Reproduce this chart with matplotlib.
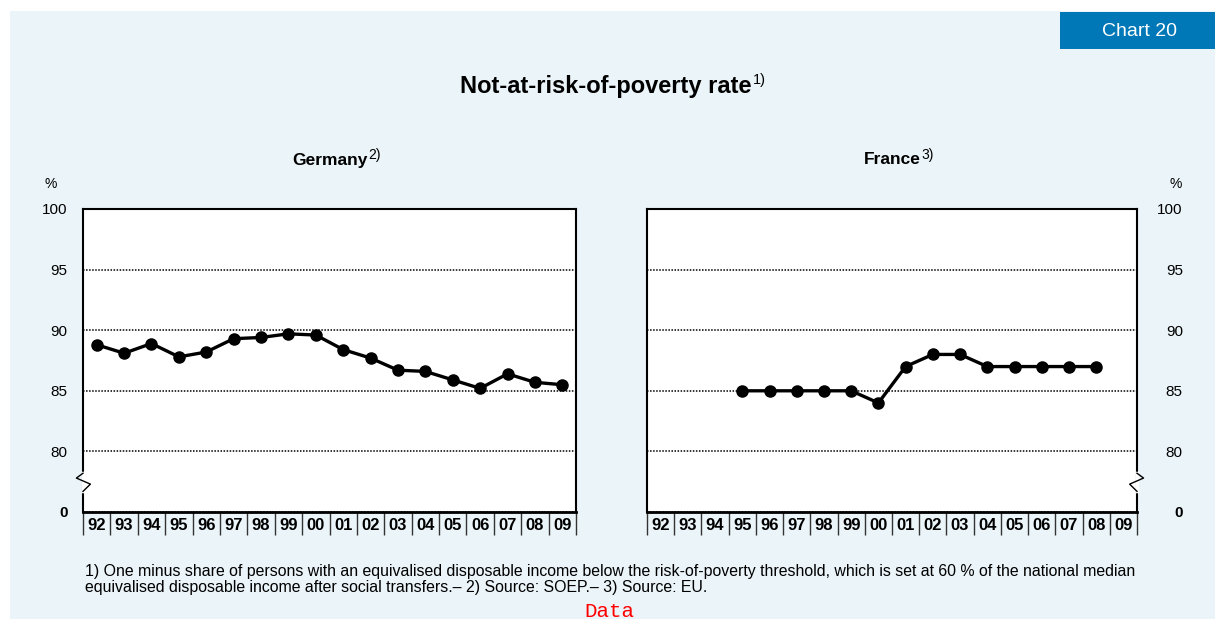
import numpy as np
import matplotlib
matplotlib.use('Agg')
import matplotlib.pyplot as plt
import matplotlib.patches as patches
import matplotlib.transforms as mtransforms

plt.rcParams['font.family'] = ['Liberation Sans', 'DejaVu Sans']

years = ['92', '93', '94', '95', '96', '97', '98', '99', '00',
         '01', '02', '03', '04', '05', '06', '07', '08', '09']
germany = [88.8, 88.1, 88.9, 87.8, 88.2, 89.3, 89.4, 89.7, 89.6,
           88.4, 87.7, 86.7, 86.6, 85.9, 85.2, 86.4, 85.7, 85.5]
france = [np.nan, np.nan, np.nan, 85, 85, 85, 85, 85, 84,
          87, 88, 88, 87, 87, 87, 87, 87, np.nan]
ytick_vals = [75, 80, 85, 90, 95, 100]
ytick_labels = ['0', '80', '85', '90', '95', '100']

BG = '#EBF4F8'
W, H = 1215, 619

fig = plt.figure(figsize=(W / 100, H / 100), dpi=100)
fig.patch.set_facecolor('white')
fig.add_artist(patches.Rectangle((10 / W, 0), 1, 1 - 11 / H, transform=fig.transFigure,
                                 facecolor=BG, edgecolor='none', zorder=-10))
fig.add_artist(patches.Rectangle((1060 / W, 1 - 48.5 / H), 1, 36.5 / H, transform=fig.transFigure,
                                 facecolor='#0077B6', edgecolor='none', zorder=-5))
fig.text(1139 / W, 1 - 31 / H, 'Chart 20', color='white', fontsize=14, ha='center', va='center')

title = fig.text(606 / W, 1 - 86 / H, 'Not-at-risk-of-poverty rate', fontsize=17,
                 fontweight='bold', ha='center', va='center')


def panel(rect, values, name, note, side):
    ax = fig.add_axes(rect)
    ax.set_facecolor('white')
    x = np.arange(len(years))
    ax.plot(x, values, color='black', lw=2.4, marker='o', ms=8, zorder=4, clip_on=False)
    ax.set_xlim(-0.5, len(years) - 0.5)
    ax.set_ylim(75, 100)
    ax.set_yticks(ytick_vals)
    ax.set_yticklabels(ytick_labels)
    ax.grid(axis='y', color='black', ls=(0, (1, 1)), lw=1.1)
    ax.set_axisbelow(True)
    for s in ax.spines.values():
        s.set_linewidth(1.5)
        s.set_color('black')
    ax.spines['bottom'].set_linewidth(2)
    ax.set_xticks(x)
    ax.set_xticklabels(years, fontsize=12, fontweight='bold')
    ax.set_xticks(np.arange(len(years) + 1) - 0.5, minor=True)
    ax.tick_params(axis='x', which='major', length=0, pad=4)
    ax.tick_params(axis='x', which='minor', length=16.5, width=1, color='#333333', direction='out')
    ax.tick_params(axis='y', length=0, labelsize=11)
    if side == 'right':
        ax.yaxis.tick_right()
        ax.tick_params(axis='y', pad=33)
        for lab in ax.get_yticklabels():
            lab.set_ha('right')
        xs = 1.0
        sign = 1
    else:
        ax.tick_params(axis='y', pad=11)
        xs = 0.0
        sign = -1
    ax.get_yticklabels()[0].set_fontweight('bold')

    # axis break on the value scale
    tr = mtransforms.blended_transform_factory(ax.transAxes, ax.transData)
    ax.plot([xs, xs], [78.2, 76.7], color='white', lw=2.5, transform=tr, clip_on=False, zorder=5)
    ax.plot([xs, xs + sign * 0.0134, xs - sign * 0.015, xs],
            [78.2, 77.8, 77.3, 76.7], color='black', lw=1, transform=tr,
            clip_on=False, zorder=6)

    t = ax.text(0.5, 1 + 49 / 303, name, transform=ax.transAxes, fontsize=12.5,
                fontweight='bold', ha='center', va='center')
    ax.annotate(note, xy=(1, 1), xycoords=t, xytext=(1, 3), textcoords='offset points',
                fontsize=10, ha='left', va='top')
    return ax


ax_g = panel([83 / W, 1 - 512 / H, 493 / W, 303 / H], germany, 'Germany', '2)', 'left')
ax_f = panel([647 / W, 1 - 512 / H, 490 / W, 303 / H], france, 'France', '3)', 'right')

ax_g.annotate('1)', xy=(1, 1), xycoords=title, xytext=(1, 1), textcoords='offset points',
              fontsize=10.5, ha='left', va='top')

fig.text(51 / W, 1 - 184 / H, '%', fontsize=10, ha='center', va='center')
fig.text(1176 / W, 1 - 184 / H, '%', fontsize=10, ha='center', va='center')

fig.text(85 / W, 1 - 564 / H,
         '1) One minus share of persons with an equivalised disposable income below the '
         'risk-of-poverty threshold, which is set at 60 % of the national median\n'
         'equivalised disposable income after social transfers.\u2013 2) Source: SOEP.\u2013 3) Source: EU.',
         fontsize=11.4, ha='left', va='top', linespacing=1.1)

fig.text(609 / W, 1 - 617 / H, 'Data', color='red', fontsize=15,
         family=['Liberation Mono', 'DejaVu Sans Mono'], ha='center', va='baseline')

fig.savefig('out.png', dpi=100, facecolor=fig.get_facecolor())
